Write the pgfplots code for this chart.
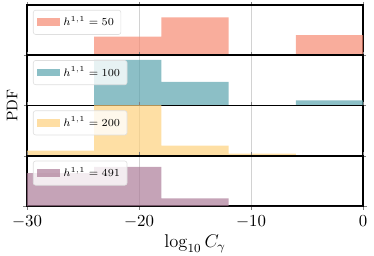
\documentclass[border=0pt]{standalone}
\usepackage{pgfplots}
\pgfplotsset{compat=1.18}
\usepgfplotslibrary{groupplots}
\usetikzlibrary{calc}
\definecolor{cA}{HTML}{F68A72}
\definecolor{cB}{HTML}{5BA4AE}
\definecolor{cC}{HTML}{FED17D}
\definecolor{cD}{HTML}{AC7C98}
\begin{document}
\begin{tikzpicture}
\pgfplotsset{
  panel/.style={
    width=218.4pt, height=32.66pt, scale only axis,
    xmin=-30, xmax=0, ymin=0, ymax=50,
    xtick={-30,-20,-10,0},
    xmajorgrids, grid style={gray!35, line width=0.5pt},
    ytick={0}, yticklabels={}, 
    axis line style={line width=1pt, black},
    tick align=outside, major tick length=2pt,
    xticklabels={}, 
    clip=true,
    legend cell align=left,
    legend style={at={(rel axis cs:0,1)}, anchor=north west, xshift=3.9pt, yshift=-3.2pt,
      draw=gray!25, rounded corners=1.5pt, fill=white, fill opacity=0.8, text opacity=1,
      font=\fontsize{7.4}{8}\selectfont, inner xsep=2.5pt, inner ysep=2pt},
    legend image code/.code={\fill[sharp corners, fill opacity=0.7] (0pt,-2.5pt) rectangle (15pt,2.5pt);},
  },
}
\begin{groupplot}[group style={group size=1 by 4, vertical sep=0pt}, panel]
\nextgroupplot
\addplot[fill=cA, fill opacity=0.7, draw=none, const plot] coordinates {(-30,0)(-24,18.5)(-18,37.8)(-12,0)(-6,20)(0,20)} \closedcycle;
\addlegendentry{$h^{1,1}=50$}
\nextgroupplot
\addplot[fill=cB, fill opacity=0.7, draw=none, const plot] coordinates {(-30,0)(-24,45.5)(-18,23.5)(-12,0)(-6,5)(0,5)} \closedcycle;
\addlegendentry{$h^{1,1}=100$}
\nextgroupplot
\addplot[fill=cC, fill opacity=0.7, draw=none, const plot] coordinates {(-30,5)(-24,60)(-18,10)(-12,2)(-6,0)(0,0)} \closedcycle;
\addlegendentry{$h^{1,1}=200$}
\nextgroupplot[xticklabels={$-30$,$-20$,$-10$,$0$}, major tick length=2.5pt,
  ticklabel style={font=\fontsize{11}{13}\selectfont},
  xlabel={$\log_{10} C_\gamma$}, xlabel style={font=\fontsize{11.5}{13}\selectfont, yshift=2pt}]
\addplot[fill=cD, fill opacity=0.7, draw=none, const plot] coordinates {(-30,32.7)(-24,39)(-18,7.7)(-12,0)(-6,0)(0,0)} \closedcycle;
\addlegendentry{$h^{1,1}=491$}
\end{groupplot}
\node[rotate=90, font=\fontsize{10}{12}\selectfont] at ($(group c1r2.south west)+(-9.75pt,0)$) {PDF};
\pgfresetboundingbox
\path ($(group c1r4.south west)+(-17.55pt,-31.85pt)$) rectangle ($(group c1r1.north east)+(7.15pt,3.25pt)$);
\end{tikzpicture}
\end{document}
